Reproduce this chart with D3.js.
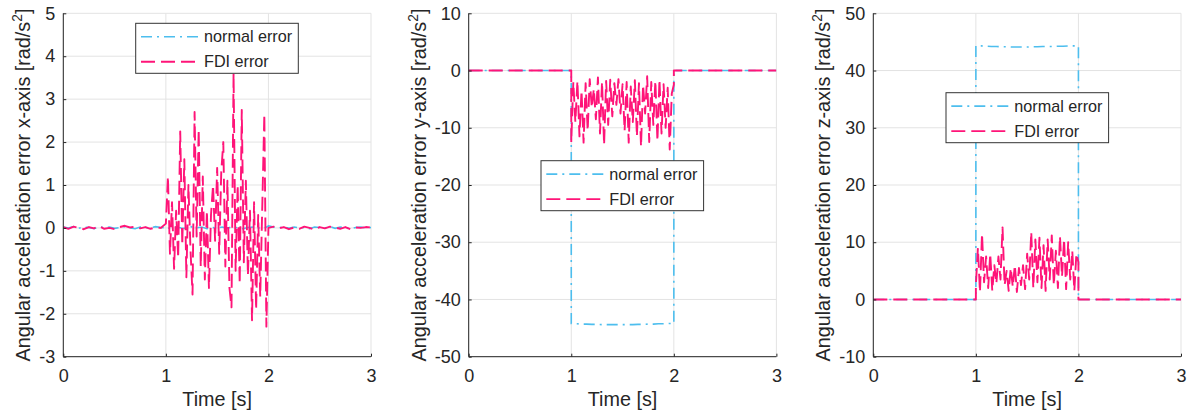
<!DOCTYPE html>
<html>
<head>
<meta charset="utf-8">
<script src="https://cdn.jsdelivr.net/npm/d3@7"></script>
<style>
  html, body { margin: 0; padding: 0; background: #ffffff; }
  svg { display: block; }
  text { font-family: "Liberation Sans", Arial, Helvetica, sans-serif; fill: #262626; }
</style>
</head>
<body>
<svg id="chart" width="1192" height="416"></svg>
<script>
// ---------------- DATA ----------------
const xTicks = [0, 1, 2, 3];
const yTicksX = [-3, -2, -1, 0, 1, 2, 3, 4, 5];
const yTicksY = [-50, -40, -30, -20, -10, 0, 10];
const yTicksZ = [-10, 0, 10, 20, 30, 40, 50];
const seriesNames = ["normal error", "FDI error"];
const yLabels = ["Angular acceleration error x-axis [rad/s", "Angular acceleration error y-axis [rad/s", "Angular acceleration error z-axis [rad/s"];
const xLabel = "Time [s]";

// sample times (s): before the fault, during the fault (fine and coarse), after the fault
const tPre = d3.range(0, 1.0001, 0.05);
const tFault = d3.range(1, 2.0001, 0.02);
const tFaultCoarse = d3.range(1, 2.0001, 0.05);
const tPost = d3.range(2, 3.0001, 0.05);

// x-axis panel
const normalX_pre = [0.02, 0.0, 0.03, -0.01, 0.02, 0.01, -0.02, 0.03, 0.0, 0.02, -0.01, 0.01, 0.03, 0.0, -0.02, 0.02, 0.01, 0.0, 0.03, 0.01, 0.0];
const normalX_fault = [0.01, -0.02, 0.02, 0.0, -0.01, 0.03, 0.0, 0.02, -0.02, 0.01, 0.0, 0.02, -0.01, 0.03, 0.0, -0.02, 0.01, 0.02, 0.0, -0.01, 0.04];
const normalX_post = [0.05, 0.02, 0.0, 0.03, -0.01, 0.02, 0.0, 0.01, -0.02, 0.02, 0.01, 0.0, 0.03, -0.01, 0.02, 0.0, -0.02, 0.01, 0.02, 0.0, 0.01];
const fdiX_pre = [0.02, -0.02, 0.03, 0.0, -0.03, 0.02, -0.01, 0.04, -0.02, 0.0, -0.03, 0.02, 0.05, 0.01, 0.03, -0.01, 0.02, -0.02, 0.01, 0.0, 0.1];
const fdiX_fault = [
  0.1, 1.2, -0.6, 0.6, -0.95, 0.4, -0.7, 2.25, -0.4, 1.6,
  -1.15, 1.0, -0.5, -1.55, 2.7, -0.2, 2.3, -0.9, 1.2, -1.2,
  0.4, -1.4, 0.3, 1.0, -0.3, 1.4, -0.6, 1.3, 2.0, -0.9,
  1.1, -1.4, -1.85, 3.6, -1.0, 1.0, -1.3, 2.75, -0.8, 1.1,
  -1.1, 0.4, -2.15, 0.6, -1.9, 0.3, -1.6, 0.5, 2.65, -2.3,
  0.0];
const fdiX_post = [0.0, 0.03, -0.01, 0.02, -0.03, 0.01, -0.02, 0.03, 0.0, -0.04, 0.02, -0.01, 0.03, 0.01, -0.02, 0.02, -0.03, 0.01, 0.0, 0.02, 0.01];

// y-axis panel
const normalY_pre = [0, 0, 0, 0, 0, 0, 0, 0, 0, 0, 0, 0, 0, 0, 0, 0, 0, 0, 0, 0, 0];
const normalY_fault = [-44.2, -44.25, -44.3, -44.3, -44.35, -44.35, -44.4, -44.4, -44.4, -44.4, -44.4, -44.4, -44.4, -44.35, -44.35, -44.3, -44.3, -44.25, -44.25, -44.2, -44.2];
const normalY_post = [0, 0, 0, 0, 0, 0, 0, 0, 0, 0, 0, 0, 0, 0, 0, 0, 0, 0, 0, 0, 0];
const fdiY_pre = [0, 0, 0, 0, 0, 0, 0, 0, 0, 0, 0, 0, 0, 0, 0, 0, 0, 0, 0, 0, 0];
const fdiY_fault = [
  -12.5, -2.0, -9.0, -1.8, -11.5, -3.5, -12.6, -2.2, -10.5, -1.5,
  -6.5, -3.2, -8.5, -1.2, -11.0, -2.0, -13.0, -1.8, -9.5, -1.6,
  -8.0, -2.2, -6.0, -1.5, -7.5, -2.4, -10.5, -2.0, -12.6, -2.8,
  -9.0, -1.7, -11.5, -2.2, -13.3, -2.5, -7.5, -1.0, -12.5, -2.0,
  -9.5, -1.8, -12.3, -1.6, -11.0, -2.4, -10.0, -3.0, -13.8, -4.0,
  -2.5];
const fdiY_post = [0, 0, 0, 0, 0, 0, 0, 0, 0, 0, 0, 0, 0, 0, 0, 0, 0, 0, 0, 0, 0];

// z-axis panel
const normalZ_pre = [0, 0, 0, 0, 0, 0, 0, 0, 0, 0, 0, 0, 0, 0, 0, 0, 0, 0, 0, 0, 0];
const normalZ_fault = [44.3, 44.3, 44.25, 44.2, 44.2, 44.15, 44.15, 44.1, 44.1, 44.1, 44.1, 44.15, 44.15, 44.2, 44.2, 44.2, 44.25, 44.25, 44.3, 44.3, 44.3];
const normalZ_post = [0, 0, 0, 0, 0, 0, 0, 0, 0, 0, 0, 0, 0, 0, 0, 0, 0, 0, 0, 0, 0];
const fdiZ_pre = [0, 0, 0, 0, 0, 0, 0, 0, 0, 0, 0, 0, 0, 0, 0, 0, 0, 0, 0, 0, 0];
const fdiZ_fault = [
  2.5, 9.0, 1.3, 11.5, 3.0, 7.5, 2.0, 8.0, 1.5, 6.0,
  2.8, 7.5, 3.5, 12.6, 2.5, 5.0, 1.5, 5.5, 2.2, 6.0,
  1.3, 5.5, 2.5, 6.0, 1.8, 8.0, 3.5, 11.8, 2.0, 10.5,
  3.0, 10.8, 2.0, 9.5, 1.5, 10.5, 3.5, 11.2, 2.5, 8.5,
  2.0, 11.0, 4.0, 10.5, 1.8, 10.0, 3.5, 8.5, 1.5, 8.0,
  6.5];
const fdiZ_post = [0, 0, 0, 0, 0, 0, 0, 0, 0, 0, 0, 0, 0, 0, 0, 0, 0, 0, 0, 0, 0];

// ---------------- BUILD ----------------
function zipSeries(tArrs, vArrs) {
  const pts = [];
  tArrs.forEach((ts, k) => ts.forEach((t, i) => pts.push([t, vArrs[k][i]])));
  return pts;
}

const panels = [
  { yDomain: [-3, 5], yTicks: yTicksX, label: yLabels[0],
    normal: zipSeries([tPre, tFaultCoarse, tPost], [normalX_pre, normalX_fault, normalX_post]),
    fdi: zipSeries([tPre, tFault, tPost], [fdiX_pre, fdiX_fault, fdiX_post]),
    left: 63.3, legendDx: 72.4, legendDy: 10 },
  { yDomain: [-50, 10], yTicks: yTicksY, label: yLabels[1],
    normal: zipSeries([tPre, tFaultCoarse, tPost], [normalY_pre, normalY_fault, normalY_post]),
    fdi: zipSeries([tPre, tFault, tPost], [fdiY_pre, fdiY_fault, fdiY_post]),
    left: 468.7, legendDx: 72.3, legendDy: 147.4 },
  { yDomain: [-10, 50], yTicks: yTicksZ, label: yLabels[2],
    normal: zipSeries([tPre, tFaultCoarse, tPost], [normalZ_pre, normalZ_fault, normalZ_post]),
    fdi: zipSeries([tPre, tFault, tPost], [fdiZ_pre, fdiZ_fault, fdiZ_post]),
    left: 873.3, legendDx: 72.7, legendDy: 79.4 }
];

const plotW = 307.7, plotTop = 13.3, plotBottom = 356.7, plotH = plotBottom - plotTop;
const cNormal = "#4DBEEE", cFdi = "#FF1478";
const axisColor = "#262626", gridColor = "#e3e3e3";
const tickFont = 18, labelFont = 19.8, legendFont = 16.2;
const dashNormal = "11,5,2,5", dashFdi = "14,6";

const svg = d3.select("#chart");

panels.forEach((p, idx) => {
  const g = svg.append("g").attr("transform", `translate(${p.left},${plotTop})`);
  const x = d3.scaleLinear().domain([0, 3]).range([0, plotW]);
  const y = d3.scaleLinear().domain(p.yDomain).range([plotH, 0]);

  // grid
  g.append("g").selectAll("line").data(xTicks).join("line")
    .attr("x1", d => x(d)).attr("x2", d => x(d)).attr("y1", 0).attr("y2", plotH)
    .attr("stroke", gridColor).attr("stroke-width", 1);
  g.append("g").selectAll("line").data(p.yTicks).join("line")
    .attr("y1", d => y(d)).attr("y2", d => y(d)).attr("x1", 0).attr("x2", plotW)
    .attr("stroke", gridColor).attr("stroke-width", 1);

  // clip
  const clipId = "clip" + idx;
  g.append("clipPath").attr("id", clipId).append("rect")
    .attr("x", 0).attr("y", 0).attr("width", plotW).attr("height", plotH);

  const line = d3.line().x(d => x(d[0])).y(d => y(d[1]));
  const lg = g.append("g").attr("clip-path", `url(#${clipId})`);
  lg.append("path").datum(p.normal).attr("d", line)
    .attr("fill", "none").attr("stroke", cNormal).attr("stroke-width", 1.6)
    .attr("stroke-dasharray", dashNormal);
  lg.append("path").datum(p.fdi).attr("d", line)
    .attr("fill", "none").attr("stroke", cFdi).attr("stroke-width", 1.9)
    .attr("stroke-dasharray", dashFdi).attr("stroke-linejoin", "round");

  // axes
  const xAxis = d3.axisBottom(x).tickValues(xTicks).tickSize(-3).tickPadding(8).tickFormat(d3.format("d"));
  const yAxis = d3.axisLeft(y).tickValues(p.yTicks).tickSize(-3).tickPadding(8).tickFormat(d3.format("d"));
  const gx = g.append("g").attr("transform", `translate(0,${plotH})`).call(xAxis);
  const gy = g.append("g").call(yAxis);
  [gx, gy].forEach(a => {
    a.select(".domain").attr("stroke", axisColor).attr("stroke-width", 1);
    a.selectAll(".tick line").attr("stroke", axisColor);
    a.selectAll(".tick text").attr("font-size", tickFont).attr("fill", axisColor)
      .attr("font-family", "'Liberation Sans', Arial, sans-serif");
  });
  gx.select(".domain").attr("d", `M0,0H${plotW}`);
  gy.select(".domain").attr("d", `M0,0V${plotH}`);
  gx.selectAll(".tick text").attr("dy", "0.95em");
  gy.selectAll(".tick text").text(d => d < 0 ? "-" + Math.abs(d) : d);

  // x label
  g.append("text").attr("x", plotW / 2).attr("y", plotH + 49)
    .attr("text-anchor", "middle").attr("font-size", labelFont).text(xLabel);

  // y label, positioned from the tick labels
  let minLeft = 0;
  gy.selectAll(".tick text").each(function () {
    const b = this.getBBox();
    minLeft = Math.min(minLeft, b.x);
  });
  const yl = g.append("text")
    .attr("transform", `translate(${minLeft - 9},${plotH / 2}) rotate(-90)`)
    .attr("text-anchor", "middle").attr("font-size", labelFont);
  yl.append("tspan").text(p.label);
  yl.append("tspan").attr("font-size", labelFont * 0.7).attr("dy", -8).text("2");
  yl.append("tspan").attr("dy", 8).text("]");

  // legend
  const legW = 162.6, legH = 50;
  const lgd = g.append("g").attr("transform", `translate(${p.legendDx},${p.legendDy})`);
  lgd.append("rect").attr("x", 0).attr("y", 0).attr("width", legW).attr("height", legH)
    .attr("fill", "#ffffff").attr("stroke", "#333333").attr("stroke-width", 1);
  const rows = [{ name: seriesNames[0], color: cNormal, dash: dashNormal, w: 1.6 },
                { name: seriesNames[1], color: cFdi, dash: dashFdi, w: 1.9 }];
  rows.forEach((r, i) => {
    const cy = 13.4 + i * 25;
    lgd.append("line").attr("x1", 5.3).attr("x2", 62.3).attr("y1", cy).attr("y2", cy)
      .attr("stroke", r.color).attr("stroke-width", r.w).attr("stroke-dasharray", r.dash);
    lgd.append("text").attr("x", 68.3).attr("y", cy).attr("dy", "0.35em")
      .attr("font-size", legendFont).text(r.name);
  });
});
</script>
</body>
</html>
